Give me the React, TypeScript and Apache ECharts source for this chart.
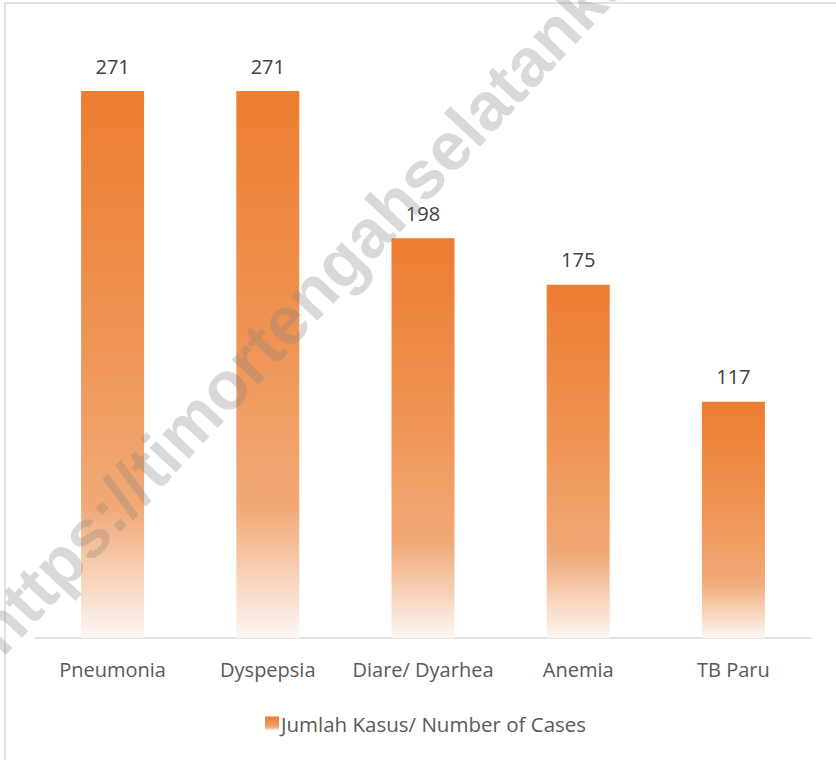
import React, { useEffect, useRef } from "react";
import * as echarts from "echarts";

const categories = ["Pneumonia", "Dyspepsia", "Diare/ Dyarhea", "Anemia", "TB Paru"];
const cases = [271, 271, 198, 175, 117];
const seriesName = "Jumlah Kasus/ Number of Cases";
const watermark = "https://timortengahselatankab.bps.go.id";

const barGradient = () =>
  new echarts.graphic.LinearGradient(0, 0, 0, 1, [
    { offset: 0, color: "#ED7D31" },
    { offset: 0.45, color: "#EF9454" },
    { offset: 0.76, color: "#F1A976" },
    { offset: 0.9, color: "#F8D6BF" },
    { offset: 1, color: "#FDF7F3" },
  ]);

export default function App() {
  const ref = useRef<HTMLDivElement>(null);
  useEffect(() => {
    if (!ref.current) return;
    const chart = echarts.init(ref.current, null, { renderer: "svg" });
    const font = "'Open Sans', 'Noto Sans', sans-serif";
    chart.setOption({
      animation: false,
      backgroundColor: "#ffffff",
      grid: { left: 35, right: 25, top: 32.5, bottom: 122, containLabel: false },
      legend: {
        show: true,
        left: 260,
        top: 708,
        itemWidth: 14,
        itemHeight: 14,
        itemGap: 6,
        icon: "rect",
        textStyle: { color: "#595959", fontSize: 20.5, fontFamily: font, padding: [0, 0, 0, -3] },
        data: [seriesName],
      },
      xAxis: {
        type: "category",
        data: categories,
        axisLine: { show: true, lineStyle: { color: "#D9D9D9", width: 1.5 } },
        axisTick: { show: false },
        axisLabel: { color: "#595959", fontSize: 20, fontFamily: font, margin: 21, interval: 0 },
      },
      yAxis: {
        type: "value",
        min: 0,
        max: 300,
        show: false,
        splitLine: { show: false },
      },
      series: [
        {
          name: seriesName,
          type: "bar",
          data: cases,
          barWidth: 63,
          itemStyle: { color: barGradient() },
          label: {
            show: true,
            position: "top",
            distance: 15,
            color: "#404040",
            fontSize: 20,
            fontFamily: font,
          },
        },
      ],
      graphic: [
        {
          type: "rect",
          silent: true,
          shape: { x: 5, y: 3, width: 1000, height: 1000 },
          style: { fill: "none", stroke: "#D9D9D9", lineWidth: 1.5 },
          z: 0,
        },
        {
          type: "text",
          silent: true,
          x: 10,
          y: 665,
          rotation: (47 * Math.PI) / 180,
          style: {
            text: watermark,
            fontSize: 68,
            fontWeight: "bold",
            fontFamily: "'Liberation Sans', Arial, sans-serif",
            fill: "rgba(128,128,128,0.3)",
            align: "left",
            verticalAlign: "bottom",
          },
          z: 100,
        },
      ],
    });
    return () => chart.dispose();
  }, []);
  return (
    <div
      ref={ref}
      style={{ position: "fixed", left: 0, top: 0, width: 836, height: 760 }}
    />
  );
}
